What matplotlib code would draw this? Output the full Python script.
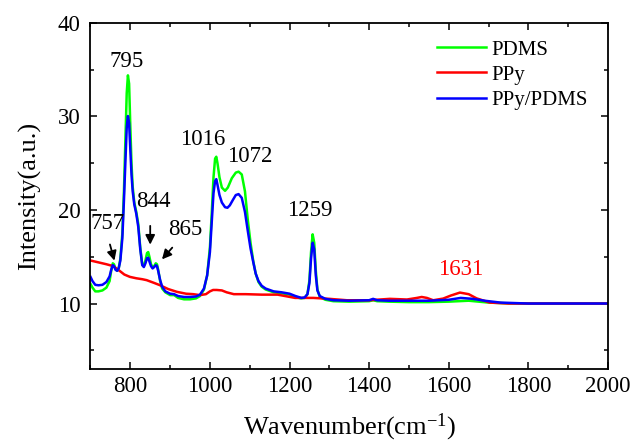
import matplotlib
matplotlib.use("Agg")
import matplotlib.pyplot as plt
from matplotlib.ticker import MultipleLocator

plt.rcParams['font.family'] = ['Liberation Serif', 'DejaVu Serif']
plt.rcParams['mathtext.fontset'] = 'custom'
plt.rcParams['mathtext.rm'] = 'Liberation Serif'
plt.rcParams['mathtext.default'] = 'regular'

# 光谱数据
pdms_x = [700, 705, 712, 720, 730, 740, 748, 752, 756, 759, 763, 767, 771, 775, 780, 784,
          788, 791, 794, 797, 800, 803, 806, 810, 815, 820, 825, 830, 834, 838, 842, 845,
          848, 852, 856, 860, 864, 867, 870, 875, 880, 888, 900, 910, 920, 935, 950, 965,
          975, 985, 993, 1000, 1005, 1009, 1013, 1016, 1019, 1024, 1030, 1038, 1045, 1055,
          1065, 1072, 1080, 1088, 1095, 1102, 1109, 1115, 1122, 1130, 1140, 1160, 1180,
          1200, 1215, 1228, 1238, 1245, 1250, 1254, 1258, 1262, 1266, 1270, 1276, 1290,
          1310, 1350, 1400, 1410, 1420, 1450, 1500, 1550, 1600, 1650, 1700, 1750, 1800,
          1900, 2000]
pdms_y = [12.1, 11.7, 11.3, 11.3, 11.4, 11.7, 12.4, 13.5, 14.3, 14.2, 13.7, 13.5, 13.8,
          14.8, 17.5, 22.0, 28.0, 32.5, 34.4, 33.5, 29.0, 25.0, 22.5, 20.8, 19.8, 18.5,
          16.0, 14.2, 14.0, 14.6, 15.4, 15.5, 15.0, 14.2, 13.9, 14.0, 14.3, 14.2, 13.6,
          12.4, 11.6, 11.2, 10.9, 10.9, 10.6, 10.45, 10.45, 10.55, 10.8, 11.5, 13.0, 16.0,
          20.0, 23.5, 25.5, 25.7, 25.0, 23.5, 22.4, 22.05, 22.4, 23.4, 24.0, 24.1, 23.8,
          22.0, 19.0, 16.5, 14.5, 13.2, 12.3, 11.8, 11.5, 11.2, 11.1, 10.95, 10.7, 10.55,
          10.6, 11.0, 12.5, 15.5, 17.4, 16.5, 13.5, 11.5, 10.7, 10.4, 10.25, 10.2, 10.25,
          10.35, 10.25, 10.2, 10.15, 10.15, 10.2, 10.3, 10.1, 10.02, 10.0, 10.0, 10.0]

ppy_x = [700, 720, 740, 757, 770, 785, 799, 815, 830, 841, 860, 875, 895, 917, 940, 958,
         975, 990, 1000, 1008, 1017, 1030, 1042, 1060, 1090, 1130, 1170, 1214, 1260, 1300,
         1344, 1400, 1452, 1495, 1520, 1532, 1545, 1561, 1586, 1605, 1628, 1650, 1670,
         1703, 1750, 1800, 2000]
ppy_y = [14.6, 14.4, 14.2, 14.0, 13.6, 13.1, 12.85, 12.7, 12.6, 12.5, 12.2, 11.95, 11.55,
         11.25, 11.05, 11.0, 10.9, 11.0, 11.3, 11.45, 11.45, 11.4, 11.2, 11.0, 11.0, 10.95,
         10.95, 10.6, 10.6, 10.5, 10.35, 10.35, 10.5, 10.43, 10.6, 10.7, 10.6, 10.35, 10.53,
         10.85, 11.17, 11.0, 10.55, 10.1, 10.0, 10.0, 10.0]

comp_x = [700, 705, 712, 720, 730, 740, 748, 752, 756, 759, 763, 767, 771, 775, 780, 784,
          788, 791, 794, 797, 800, 803, 806, 810, 815, 820, 825, 830, 834, 838, 842, 845,
          848, 852, 856, 860, 864, 867, 870, 875, 880, 888, 900, 910, 920, 935, 950, 965,
          975, 985, 993, 1000, 1005, 1009, 1013, 1016, 1019, 1024, 1030, 1038, 1044, 1050,
          1058, 1065, 1072, 1080, 1088, 1095, 1102, 1109, 1115, 1122, 1130, 1140, 1160,
          1180, 1200, 1215, 1230, 1238, 1245, 1250, 1254, 1258, 1262, 1266, 1270, 1276,
          1290, 1310, 1350, 1400, 1410, 1420, 1450, 1500, 1550, 1600, 1630, 1660, 1690,
          1730, 1800, 1900, 2000]
comp_y = [12.85, 12.4, 12.0, 11.95, 12.0, 12.3, 12.9, 13.6, 14.1, 14.0, 13.6, 13.5, 13.8,
          14.6, 17.0, 21.0, 25.5, 28.8, 30.05, 29.3, 26.5, 23.8, 22.0, 20.6, 19.6, 18.2,
          15.8, 14.1, 13.9, 14.3, 14.85, 14.9, 14.5, 14.0, 13.75, 13.9, 14.1, 14.0, 13.5,
          12.5, 11.8, 11.3, 11.05, 11.0, 10.8, 10.7, 10.7, 10.75, 10.95, 11.6, 13.0, 15.5,
          19.0, 21.8, 23.1, 23.3, 22.7, 21.6, 20.8, 20.3, 20.24, 20.5, 21.1, 21.6, 21.7,
          21.3, 19.8, 17.8, 15.9, 14.4, 13.2, 12.4, 11.9, 11.6, 11.3, 11.2, 11.05, 10.8,
          10.6, 10.65, 11.0, 12.2, 14.8, 16.5, 15.8, 13.0, 11.4, 10.8, 10.5, 10.35, 10.3,
          10.35, 10.5, 10.35, 10.3, 10.3, 10.3, 10.4, 10.6, 10.5, 10.3, 10.1, 10.0, 10.0,
          10.0]

series_names = ["PDMS", "PPy", "PPy/PDMS"]

# 峰的标注
peak_labels = ["795", "757", "844", "865", "1016", "1072", "1259", "1631"]
peak_text_pos = [(791, 35.9), (744, 18.6), (858, 20.9), (937, 17.9),
                 (981, 27.5), (1101, 25.7), (1252, 20.0), (1630, 13.6)]

fig = plt.figure(figsize=(6.4, 4.42), dpi=100)
ax = fig.add_axes([0.1414, 0.1652, 0.8086, 0.7828])

ax.plot(pdms_x, pdms_y, color="#00ff00", lw=1.8, label=series_names[0])
ax.plot(ppy_x, ppy_y, color="#ff0000", lw=1.8, label=series_names[1])
ax.plot(comp_x, comp_y, color="#0000ff", lw=1.8, label=series_names[2])

for lab, (tx, ty) in zip(peak_labels, peak_text_pos):
    c = "red" if lab == "1631" else "black"
    ax.text(tx, ty, lab, fontsize=16.5, color=c, ha="center", va="center")

# 矢印
arrow_kw = dict(arrowstyle="-|>", color="black", lw=1.3, mutation_scale=14)
ax.annotate("", xy=(762, 14.3), xytext=(747, 16.6), arrowprops=arrow_kw)
ax.annotate("", xy=(850, 16.0), xytext=(850, 18.6), arrowprops=arrow_kw)
ax.annotate("", xy=(875, 14.5), xytext=(910, 16.2), arrowprops=arrow_kw)

ax.set_xlim(700, 2000)
ax.set_ylim(3, 40)
ax.xaxis.set_major_locator(MultipleLocator(200))
ax.xaxis.set_minor_locator(MultipleLocator(100))
ax.yaxis.set_major_locator(MultipleLocator(10))
ax.yaxis.set_minor_locator(MultipleLocator(5))
ax.tick_params(which="both", direction="in", top=True, right=True, width=1.1)
ax.tick_params(which="major", length=5, labelsize=16.5)
ax.tick_params(which="minor", length=3)
ax.tick_params(axis="x", pad=5)
ax.tick_params(axis="y", pad=7)
for s in ax.spines.values():
    s.set_linewidth(1.3)

ax.set_xlabel("Wavenumber(cm$^{-1}$)", fontsize=19)
ax.set_ylabel("Intensity(a.u.)", fontsize=19)
ax.xaxis.set_label_coords(0.5, -0.122)
ax.yaxis.set_label_coords(-0.096, 0.5)

ax.legend(loc="upper left", bbox_to_anchor=(437 / 640, 1 - 40 / 442),
          bbox_transform=fig.transFigure, frameon=False, fontsize=15,
          handlelength=2.35, handletextpad=0.25, labelspacing=0.27,
          borderpad=0, borderaxespad=0)

fig.savefig("out.png", dpi=100)
